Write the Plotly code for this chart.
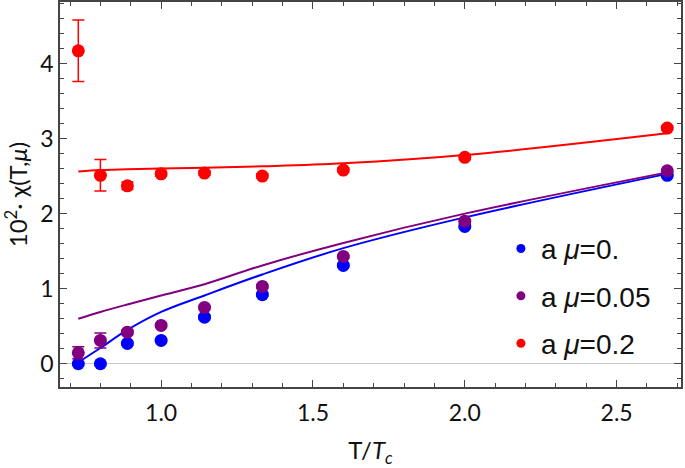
import plotly.graph_objects as go

# T/Tc values (8/Nt)
t_vals = [8/11, 8/10, 8/9, 8/8, 8/7, 8/6, 8/5, 8/4, 8/3]

chi_mu0 = [0.00, 0.00, 0.27, 0.31, 0.62, 0.92, 1.31, 1.83, 2.51]
err_mu0 = [0.02, 0.02, 0.02, 0.02, 0.02, 0.02, 0.02, 0.02, 0.02]
chi_mu005 = [0.145, 0.31, 0.42, 0.51, 0.75, 1.03, 1.43, 1.90, 2.57]
err_mu005 = [0.08, 0.10, 0.03, 0.02, 0.02, 0.02, 0.02, 0.02, 0.02]
chi_mu02 = [4.17, 2.51, 2.37, 2.53, 2.54, 2.50, 2.58, 2.75, 3.14]
err_mu02 = [0.41, 0.21, 0.05, 0.03, 0.03, 0.03, 0.03, 0.03, 0.03]

fit_mu0 = [0.02, 0.21, 0.45, 0.69, 0.91, 1.19, 1.54, 1.95, 2.53]
fit_mu005 = [0.60, 0.69, 0.79, 0.91, 1.06, 1.31, 1.61, 2.00, 2.55]
fit_mu02 = [2.56, 2.58, 2.59, 2.60, 2.61, 2.63, 2.67, 2.78, 3.07]

labels = ["a <i>μ</i>=0.", "a <i>μ</i>=0.05", "a <i>μ</i>=0.2"]
colors = ["#0000FF", "#800080", "#FF0000"]

x_ticks = [1.0, 1.5, 2.0, 2.5]
y_ticks = [0, 1, 2, 3, 4]

fig = go.Figure()

series = [(chi_mu0, err_mu0, fit_mu0), (chi_mu005, err_mu005, fit_mu005), (chi_mu02, err_mu02, fit_mu02)]
for (vals, errs, fit), col in zip(series, colors):
    fig.add_trace(go.Scatter(x=t_vals, y=fit, mode="lines", line_shape="spline",
                             line=dict(color=col, width=2), showlegend=False, hoverinfo="skip"))
for (vals, errs, fit), col in zip(series, colors):
    fig.add_trace(go.Scatter(x=t_vals, y=vals, mode="markers",
                             marker=dict(color=col, size=13),
                             error_y=dict(type="data", array=errs, color=col, thickness=1.5, width=6),
                             showlegend=False))
for i, (lab, col) in enumerate(zip(labels, colors)):
    fig.add_trace(go.Scatter(x=[None], y=[None], mode="markers", name=lab,
                             marker=dict(color=col, size=9), legendgroup=str(i)))

FONT = "Lato"
axis_common = dict(
    showline=True, linecolor="#444444", linewidth=1.5, mirror="ticks",
    ticks="inside", tickcolor="#444444", tickwidth=1.2, ticklen=7,
    showgrid=False, automargin=False,
    tickfont=dict(family=FONT, size=23, color="#111111"),
)

fig.update_xaxes(range=[0.667, 2.712], tickvals=x_ticks, ticktext=["1.0", "1.5", "2.0", "2.5"],
                 minor=dict(dtick=0.1, tick0=0, ticks="inside", ticklen=4, tickcolor="#444444", tickwidth=1),
                 zeroline=False, ticklabelstandoff=5,
                 title=dict(text="T/<i>T</i><sub><i>c</i></sub>", font=dict(family=FONT, size=24, color="#111111"),
                            standoff=22),
                 **axis_common)
fig.update_yaxes(range=[-0.31, 4.82], tickvals=y_ticks, ticktext=[str(v) for v in y_ticks],
                 minor=dict(dtick=0.2, tick0=0, ticks="inside", ticklen=4, tickcolor="#444444", tickwidth=1),
                 zeroline=True, zerolinecolor="#C8C8C8", zerolinewidth=1,
                 title=dict(text="10<sup>2</sup>· χ(T,<i>μ</i>)", font=dict(family=FONT, size=24, color="#111111")),
                 **axis_common)

fig.update_layout(
    width=685, height=468,
    margin=dict(l=60, r=4, t=2, b=81),
    plot_bgcolor="white", paper_bgcolor="white",
    legend=dict(x=0.71, y=0.424, xanchor="left", yanchor="top",
                font=dict(family="Liberation Sans", size=28, color="#111111"),
                bgcolor="rgba(0,0,0,0)", tracegroupgap=8, itemwidth=30),
)

fig.write_html("out.html", config={"displayModeBar": False},
               post_script="document.body.style.margin='0';")
